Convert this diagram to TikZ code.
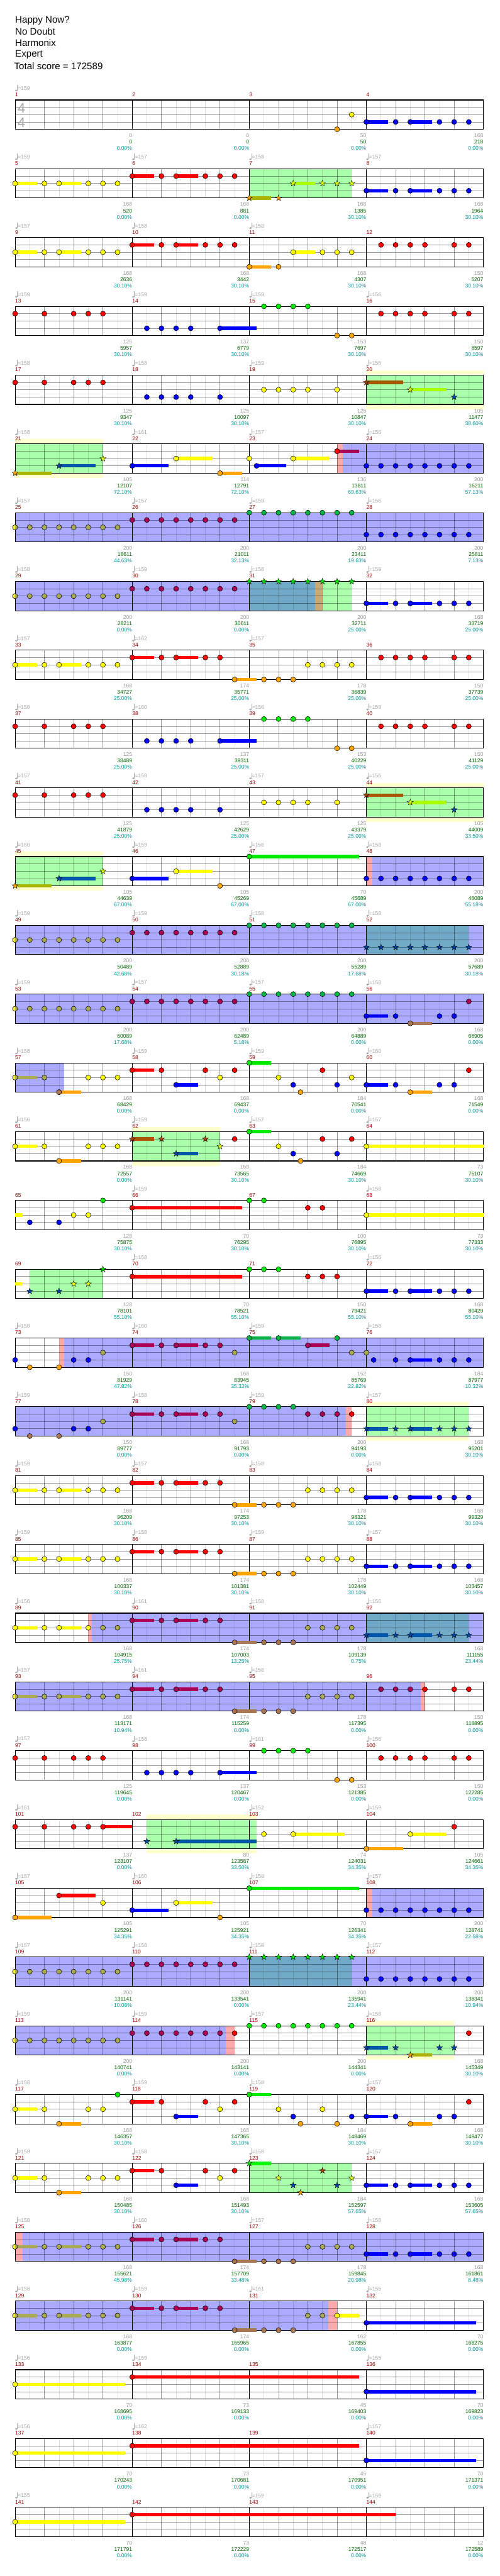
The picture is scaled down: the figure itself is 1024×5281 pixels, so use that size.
\documentclass[tikz,border=0pt]{standalone}
\usepackage{fontspec}
\setmainfont{Liberation Sans}
\definecolor{nG}{RGB}{0,235,0}\definecolor{nR}{RGB}{255,0,0}\definecolor{nY}{RGB}{255,255,0}
\definecolor{nB}{RGB}{0,0,255}\definecolor{nO}{RGB}{255,165,0}
\definecolor{oG}{RGB}{0,180,70}\definecolor{oR}{RGB}{170,0,85}\definecolor{oY}{RGB}{170,170,85}
\definecolor{oB}{RGB}{0,0,255}\definecolor{oO}{RGB}{170,119,85}
\definecolor{sG}{RGB}{0,230,0}\definecolor{sR}{RGB}{170,68,0}\definecolor{sY}{RGB}{225,255,0}
\definecolor{sB}{RGB}{0,70,170}\definecolor{sO}{RGB}{255,165,0}
\definecolor{tG}{RGB}{0,255,0}\definecolor{tR}{RGB}{170,85,0}\definecolor{tY}{RGB}{170,255,0}
\definecolor{tB}{RGB}{0,85,170}\definecolor{tO}{RGB}{170,180,0}
\definecolor{odc}{RGB}{170,170,255}\definecolor{spc}{RGB}{170,255,170}\definecolor{glowc}{RGB}{255,255,208}
\definecolor{pkc}{RGB}{255,170,170}\definecolor{tlc}{RGB}{112,170,200}\definecolor{tanc}{RGB}{200,170,120}
\definecolor{ngray}{RGB}{153,153,153}\definecolor{ngreen}{RGB}{0,102,0}\definecolor{nteal}{RGB}{0,153,153}
\definecolor{mred}{RGB}{153,0,0}\definecolor{tgray}{RGB}{165,165,165}
\tikzset{
 l8/.style={draw=black,opacity=0.13,line width=0.8},
 lb/.style={draw=black,opacity=0.4,line width=0.8},
 txt/.style={inner sep=0pt,font=\fontsize{11}{13}\selectfont},
 mnum/.style={txt,text=mred,anchor=west},
 ttl/.style={inner sep=0pt,anchor=west,font=\fontsize{19.5}{22}\selectfont}
}
\def\offG{0}\def\offR{15}\def\offY{30}\def\offB{45}\def\offO{60}
\newcommand\setrow[1]{\def\rowid{#1}\pgfmathsetmacro\RY{205+141*(#1-1)}}
\newcommand\reg[3]{\fill[#1] ({31+30*(#2)},\RY) rectangle ({31+30*(#3)},{\RY+60});}
\newcommand\glow[2]{\fill[glowc] ({31+30*(#1)},{\RY-10}) rectangle ({31+30*(#2)},{\RY+70});\reg{spc}{#1}{#2}}
\newcommand\grid[2]{%
 \foreach \i in {1,3,...,31}{\draw[l8] ({31+30*\i},\RY) -- ++(0,60);}
 \foreach \i in {2,4,...,30}{\draw[lb] ({31+30*\i},\RY) -- ++(0,60);}
 \foreach \l in {15,30,45}{\draw[lb] (31,{\RY+\l}) -- (991,{\RY+\l});}
 \foreach \i in {1,2,3}{\draw[black,line width=1] ({31+240*\i},\RY) -- ++(0,60);}
 \draw[black,line width=1.4] (31,\RY) rectangle (991,{\RY+60});
 \foreach \i in {0,...,3}{\pgfmathtruncatemacro\mm{#1+\i}\node[mnum] (mn\mm) at ({31+240*\i},{\RY-11}) {\mm};}
 \foreach \t [count=\i from 0] in {#2}{\ifnum\t>0
   \pgfmathsetmacro\xo{31+240*\i}
   \fill[tgray] ({\xo+2.3},{\RY-19.5}) ellipse [x radius=2.5, y radius=1.9];
   \draw[tgray,line width=0.8] ({\xo+4.5},{\RY-19.5}) -- ({\xo+4.5},{\RY-31});
   \node[txt,text=tgray,anchor=west] (tp\rowid-\i) at ({\xo+5.5},{\RY-24}) {=\t};
 \fi}}
\newcommand\nums[1]{\foreach \g/\s/\p [count=\i] in {#1}{%
 \node[txt,text=ngray,anchor=east] (ga\rowid-\i) at ({31+240*\i},{\RY+73}) {\g};
 \node[txt,text=ngreen,anchor=east] (gb\rowid-\i) at ({31+240*\i},{\RY+86}) {\s};
 \node[txt,text=nteal,anchor=east] (gc\rowid-\i) at ({31+240*\i},{\RY+99}) {\p\%};}}
\newcommand\nt[3]{\filldraw[fill=#1#2,draw=black,line width=0.7] ({31+30*(#3)},{\RY+\csname off#2\endcsname}) circle [radius=5.2];}
\newcommand\barr[4]{\fill[#1] ({31+30*(#3)},{\RY+\csname off#2\endcsname-3.5}) rectangle ({31+30*(#4)},{\RY+\csname off#2\endcsname+3.5});}
\newcommand\sus[4]{\barr{#1#2}{#2}{#3}{#4}\nt{#1}{#2}{#3}}
\newcommand\sn[2]{\filldraw[fill=s#1,draw=black,line width=0.5,shift={({31+30*(#2)},{\RY+\csname off#1\endcsname})}] (0,-6.5)--(1.53,-2.1)--(6.18,-2.01)--(2.47,0.8)--(3.82,5.26)--(0,2.6)--(-3.82,5.26)--(-2.47,0.8)--(-6.18,-2.01)--(-1.53,-2.1)--cycle;}
\newcommand\ssn[3]{\barr{t#1}{#1}{#2}{#3}\sn{#1}{#2}}
\newcommand\runs[4]{\foreach\q in{#3,...,#4}{\nt{#1}{#2}{\q}}}
\newcommand\pat[3]{\sus{#1}{#2}{#3}{#3+1.5}\nt{#1}{#2}{#3+2}\sus{#1}{#2}{#3+3}{#3+4.5}\nt{#1}{#2}{#3+5}\nt{#1}{#2}{#3+6}}
\newcommand\half[1]{\begin{scope}\clip ({31+30*(#1)-7},{\RY+23}) rectangle ({31+30*(#1)},{\RY+37});\filldraw[fill=nY,line width=0.7] ({31+30*(#1)},{\RY+30}) circle [radius=5.2];\end{scope}}
\newcommand\headR{\nt{n}{R}{0}\nt{n}{R}{2}\nt{n}{R}{4}\nt{n}{R}{5}\nt{n}{R}{6}}
\newcommand\tailR{\nt{n}{R}{25}\nt{n}{R}{26}\nt{n}{R}{27}\nt{n}{R}{28}\nt{n}{R}{30}\nt{n}{R}{31}}
\newcommand\secA[1]{\pat{#1}{Y}{0}\nt{#1}{Y}{7}\pat{#1}{R}{8}\sus{#1}{O}{15}{16.5}\runs{#1}{O}{17}{19}\runs{#1}{Y}{20}{23}}
\newcommand\rowC{\headR\runs{n}{B}{9}{12}\sus{n}{B}{14}{16.5}\runs{n}{G}{17}{20}\nt{n}{O}{22}\nt{n}{O}{23}\tailR}
\newcommand\rowD{\headR\runs{n}{B}{9}{12}\nt{n}{B}{14}\runs{n}{Y}{17}{20}\nt{n}{Y}{22}\ssn{R}{24}{26.5}\ssn{Y}{27}{29.5}\sn{B}{30}}
\newcommand\bpat{\pat{n}{B}{24}\nt{n}{B}{31}}
\begin{document}
\begin{tikzpicture}[x=1pt,y=-1pt]
\useasboundingbox (0,0) rectangle (1024,5281);
\fill[white] (0,0) rectangle (1024,5281);
\node[ttl] (t1) at (31,42) {Happy Now?};
\node[ttl] (t2) at (31,65) {No Doubt};
\node[ttl] (t3) at (31,88) {Harmonix};
\node[ttl] (t4) at (31,112) {Expert};
\node[ttl] (t5) at (29,135) {Total score = 172589};
% row 1
\setrow{1}\grid{1}{159,0,0,0}
\node[inner sep=0pt,text=tgray,font=\fontsize{28}{28}\selectfont] (ts1) at (44,222) {4};
\node[inner sep=0pt,text=tgray,font=\fontsize{28}{28}\selectfont] (ts2) at (44,252) {4};
\nt{n}{O}{22}\nt{n}{Y}{23}\bpat
\nums{0/0/0.00,0/0/0.00,50/50/0.00,168/218/0.00}
% row 2
\setrow{2}\reg{spc}{16}{23}\grid{5}{159,157,158,157}
\pat{n}{Y}{0}\nt{n}{Y}{7}\pat{n}{R}{8}\nt{n}{R}{15}
\ssn{O}{16}{17.5}\sn{O}{18}\ssn{Y}{19}{20.5}\sn{Y}{21}\sn{Y}{22}\sn{Y}{23}\bpat
\nums{168/520/0.00,168/881/0.00,168/1385/30.10,168/1964/30.10}
% row 3
\setrow{3}\grid{9}{157,158,158,0}
\pat{n}{Y}{0}\nt{n}{Y}{7}\pat{n}{R}{8}\nt{n}{R}{15}
\sus{n}{O}{16}{17.5}\nt{n}{O}{18}\sus{n}{Y}{19}{20.5}\runs{n}{Y}{21}{23}\tailR
\nums{168/2636/30.10,168/3442/30.10,168/4307/30.10,150/5207/30.10}
% row 4
\setrow{4}\grid{13}{159,159,159,156}\rowC
\nums{125/5957/30.10,137/6779/30.10,153/7697/30.10,150/8597/30.10}
% row 5
\setrow{5}\glow{24}{32}\grid{17}{158,158,159,156}\rowD
\nums{125/9347/30.10,125/10097/30.10,125/10847/30.10,105/11477/38.60}
% row 6
\setrow{6}\glow{0}{6}\reg{pkc}{22}{22.4}\reg{odc}{22.4}{32}\grid{21}{158,161,157,156}
\ssn{O}{0}{2.5}\ssn{B}{3}{5.5}\sn{Y}{6}
\sus{n}{B}{8}{10.5}\sus{n}{Y}{11}{13.5}\sus{n}{O}{14}{15.5}\nt{n}{Y}{16}\sus{n}{B}{16.5}{18.5}\sus{n}{Y}{19}{21.5}
\sus{o}{R}{22}{23.5}\nt{n}{R}{22}\runs{o}{B}{24}{31}
\nums{105/12107/72.10,114/12791/72.10,136/13811/69.63,200/16211/57.13}
% row 7
\setrow{7}\reg{odc}{0}{32}\grid{25}{157,157,159,156}
\runs{o}{Y}{0}{7}\half{0}\runs{o}{R}{8}{15}\runs{o}{G}{16}{23}\runs{o}{B}{24}{31}
\nums{200/18611/44.63,200/21011/32.13,200/23411/19.63,200/25811/7.13}
% row 8
\setrow{8}\reg{odc}{0}{16}\reg{tlc}{16}{20.5}\reg{tanc}{20.5}{21}\reg{spc}{21}{23}\grid{29}{158,159,158,159}
\runs{o}{Y}{0}{7}\half{0}\runs{o}{R}{8}{15}\foreach\q in{16,...,23}{\sn{G}{\q}}\bpat
\nums{200/28211/0.00,200/30611/0.00,200/32711/25.00,168/33719/25.00}
% row 9
\setrow{9}\grid{33}{157,162,157,0}\secA{n}\tailR
\nums{168/34727/25.00,174/35771/25.00,178/36839/25.00,150/37739/25.00}
% row 10
\setrow{10}\grid{37}{158,160,156,159}\rowC
\nums{125/38489/25.00,137/39311/25.00,153/40229/25.00,150/41129/25.00}
% row 11
\setrow{11}\glow{24}{32}\grid{41}{157,158,157,156}\rowD
\nums{125/41879/25.00,125/42629/25.00,125/43379/25.00,105/44009/33.50}
% row 12
\setrow{12}\glow{0}{6}\reg{pkc}{24}{24.4}\reg{odc}{24.4}{32}\grid{45}{160,159,156,158}
\ssn{O}{0}{2.5}\ssn{B}{3}{5.5}\sn{Y}{6}\sus{n}{B}{8}{10.5}\sus{n}{Y}{11}{13.5}\nt{n}{O}{14}\sus{n}{G}{16}{23.5}\runs{o}{B}{24}{31}
\nums{105/44639/67.00,105/45269/67.00,70/45689/67.00,200/48089/55.18}
% row 13
\setrow{13}\reg{odc}{0}{24}\reg{tlc}{24}{31}\reg{odc}{31}{32}\grid{49}{159,159,158,158}
\runs{o}{Y}{0}{7}\half{0}\runs{o}{R}{8}{15}\runs{o}{G}{16}{23}\foreach\q in{24,...,31}{\sn{B}{\q}}
\nums{200/50489/42.68,200/52889/30.18,200/55289/17.68,200/57689/30.18}
% row 14
\setrow{14}\reg{odc}{0}{32}\grid{53}{159,157,157,158}
\runs{o}{Y}{0}{7}\half{0}\runs{o}{R}{8}{15}\runs{o}{G}{16}{23}
\sus{o}{B}{24}{25.5}\nt{o}{B}{26}\sus{o}{O}{27}{28.5}\nt{o}{B}{29}\nt{o}{B}{30}\nt{o}{R}{31}
\nums{200/60089/17.68,200/62489/5.18,200/64889/0.00,168/66905/0.00}
% row 15
\setrow{15}\reg{odc}{0}{3.33}\grid{57}{158,159,159,160}
\sus{o}{Y}{0}{1.5}\half{0}\nt{o}{Y}{2}\sus{n}{O}{3}{4.5}\nt{o}{O}{3}\runs{n}{Y}{5}{7}
\sus{n}{R}{8}{9.5}\nt{n}{R}{10}\sus{n}{B}{11}{12.5}\nt{n}{R}{13}\nt{n}{Y}{14}\nt{n}{R}{15}
\sus{n}{G}{16}{17.5}\nt{n}{Y}{18}\nt{n}{B}{19}\nt{n}{O}{19.5}\nt{n}{R}{21}\nt{n}{B}{22}\nt{n}{Y}{23}
\sus{n}{B}{24}{25.5}\nt{n}{B}{26}\sus{n}{O}{27}{28.5}\nt{n}{B}{29}\nt{n}{B}{30}\nt{n}{R}{31}
\nums{168/68429/0.00,168/69437/0.00,184/70541/0.00,168/71549/0.00}
% row 16
\setrow{16}\glow{8}{14}\grid{61}{156,159,157,157}
\sus{n}{Y}{0}{1.5}\nt{n}{Y}{2}\sus{n}{O}{3}{4.5}\runs{n}{Y}{5}{7}
\ssn{R}{8}{9.5}\sn{R}{10}\ssn{B}{11}{12.5}\sn{R}{13}\sn{Y}{14}\nt{n}{R}{15}
\sus{n}{G}{16}{17.5}\nt{n}{Y}{18}\nt{n}{B}{19}\nt{n}{O}{19.5}\nt{n}{R}{21}\nt{n}{B}{22}\nt{n}{R}{23}\sus{n}{Y}{24}{32}
\nums{168/72557/0.00,168/73565/30.10,184/74669/30.10,73/75107/30.10}
% row 17
\setrow{17}\grid{65}{0,159,0,158}
\barr{nY}{Y}{0}{0.5}\nt{n}{B}{1}\nt{n}{B}{3}\nt{n}{Y}{4}\nt{n}{Y}{5}\nt{n}{G}{6}\sus{n}{R}{8}{15.5}
\nt{n}{G}{16}\nt{n}{G}{17}\nt{n}{R}{20}\nt{n}{R}{21}\sus{n}{Y}{24}{32}
\nums{128/75875/30.10,70/76295/30.10,100/76895/30.10,73/77333/30.10}
% row 18
\setrow{18}\reg{spc}{1}{6}\grid{69}{0,158,0,156}
\barr{nY}{Y}{0}{0.5}\sn{B}{1}\sn{B}{3}\sn{Y}{4}\sn{Y}{5}\sn{G}{6}\sus{n}{R}{8}{15.5}\runs{n}{G}{16}{18}\runs{n}{R}{20}{22}\bpat
\nums{128/78101/55.10,70/78521/55.10,150/79421/55.10,168/80429/55.10}
% row 19
\setrow{19}\reg{pkc}{3}{3.33}\reg{odc}{3.33}{32}\grid{73}{158,160,159,158}
\nt{n}{B}{0}\nt{n}{O}{1}\nt{n}{O}{3}\nt{o}{B}{4}\nt{o}{B}{5}\nt{o}{Y}{6}\pat{o}{R}{8}\nt{o}{Y}{15}
\sus{o}{G}{16}{17.5}\sus{o}{G}{18}{19.5}\sus{o}{R}{20}{21.5}\nt{o}{G}{22}\nt{o}{Y}{23}\nt{o}{Y}{24}
\nt{o}{B}{24.5}\nt{o}{B}{26}\sus{o}{B}{27}{28.5}\nt{o}{B}{29}\nt{o}{B}{30}\nt{o}{B}{31}
\nums{150/81929/47.82,168/83945/35.32,152/85769/22.82,184/87977/10.32}
% row 20
\setrow{20}\reg{odc}{0}{22.6}\reg{pkc}{22.6}{23}\glow{24}{31}\grid{77}{159,158,159,157}
\nt{o}{B}{0}\nt{o}{O}{1}\nt{o}{O}{3}\nt{o}{B}{4}\nt{o}{B}{5}\nt{o}{Y}{6}\pat{o}{R}{8}\nt{o}{Y}{15}\runs{o}{G}{16}{19}\runs{o}{R}{20}{22}\nt{n}{R}{23}
\ssn{B}{24}{25.5}\sn{B}{26}\ssn{B}{27}{28.5}\sn{B}{29}\sn{B}{30}\sn{B}{31}
\nums{150/89777/0.00,168/91793/0.00,200/94193/0.00,168/95201/30.10}
% row 21
\setrow{21}\grid{81}{159,157,158,158}\secA{n}\bpat
\nums{168/96209/30.10,174/97253/30.10,178/98321/30.10,168/99329/30.10}
% row 22
\setrow{22}\grid{85}{159,158,159,157}\secA{n}\bpat
\nums{168/100337/30.10,174/101381/30.10,178/102449/30.10,168/103457/30.10}
% row 23
\setrow{23}\reg{pkc}{5}{5.25}\reg{odc}{5.25}{24}\reg{tlc}{24}{31}\reg{odc}{31}{32}\grid{89}{156,161,158,156}
\sus{n}{Y}{0}{1.5}\nt{n}{Y}{2}\sus{n}{Y}{3}{4.5}\nt{n}{Y}{5}\nt{o}{Y}{6}\nt{o}{Y}{7}
\pat{o}{R}{8}\sus{o}{O}{15}{16.5}\runs{o}{O}{17}{19}\runs{o}{Y}{20}{23}
\ssn{B}{24}{25.5}\sn{B}{26}\ssn{B}{27}{28.5}\sn{B}{29}\sn{B}{30}\sn{B}{31}
\nums{168/104915/25.75,174/107003/13.25,178/109139/0.75,168/111155/23.44}
% row 24
\setrow{24}\reg{odc}{0}{27.7}\reg{pkc}{27.7}{28}\grid{93}{157,161,156,0}
\secA{o}\half{0}\runs{o}{R}{25}{27}\nt{n}{R}{28}\nt{n}{R}{30}\nt{n}{R}{31}
\nums{168/113171/10.94,174/115259/0.00,178/117395/0.00,150/118895/0.00}
% row 25
\setrow{25}\grid{97}{157,158,161,156}\rowC
\nums{125/119645/0.00,137/120467/0.00,153/121385/0.00,150/122285/0.00}
% row 26
\setrow{26}\glow{9}{16.5}\grid{101}{161,0,152,159}
\nt{n}{R}{0}\nt{n}{R}{2}\nt{n}{R}{4}\nt{n}{R}{5}\sus{n}{R}{6}{8}\sn{B}{9}\ssn{B}{11}{16.5}
\nt{n}{Y}{17}\sus{n}{Y}{19}{22.5}\sus{n}{O}{24}{26.5}\sus{n}{Y}{27}{29.5}\nt{n}{R}{30}
\nums{137/123107/0.00,80/123587/33.50,74/124031/34.35,105/124661/34.35}
% row 27
\setrow{27}\reg{pkc}{24}{24.4}\reg{odc}{24.4}{32}\grid{105}{157,160,158,157}
\sus{n}{O}{0}{2.5}\sus{n}{R}{3}{5.5}\nt{n}{Y}{6}\sus{n}{B}{8}{10.5}\sus{n}{Y}{11}{13.5}\nt{n}{O}{14}\sus{n}{G}{16}{23.5}\runs{o}{B}{24}{31}
\nums{105/125291/34.35,105/125921/34.35,70/126341/34.35,200/128741/22.58}
% row 28
\setrow{28}\reg{odc}{0}{16}\reg{tlc}{16}{23}\reg{odc}{23}{32}\grid{109}{157,158,158,157}
\runs{o}{Y}{0}{7}\half{0}\runs{o}{R}{8}{15}\foreach\q in{16,...,23}{\sn{G}{\q}}\runs{o}{B}{24}{31}
\nums{200/131141/10.08,200/133541/0.00,200/135941/23.44,200/138341/10.94}
% row 29
\setrow{29}\reg{odc}{0}{14.4}\reg{pkc}{14.4}{15}\glow{24}{30}\grid{113}{159,159,157,158}
\runs{o}{Y}{0}{7}\half{0}\runs{o}{R}{8}{14}\nt{n}{R}{15}\runs{n}{G}{16}{23}
\ssn{B}{24}{25.5}\sn{B}{26}\ssn{O}{27}{28.5}\sn{B}{29}\sn{B}{30}\nt{n}{R}{31}
\nums{200/140741/0.00,200/143141/0.00,200/144341/0.00,168/145349/30.10}
% row 30
\setrow{30}\grid{117}{158,159,158,157}
\sus{n}{Y}{0}{1.5}\nt{n}{Y}{2}\sus{n}{O}{3}{4.5}\nt{n}{Y}{5}\nt{n}{Y}{6}\nt{n}{G}{7}
\sus{n}{R}{8}{9.5}\nt{n}{R}{10}\sus{n}{B}{11}{12.5}\nt{n}{R}{13}\nt{n}{Y}{14}\nt{n}{R}{15}
\sus{n}{G}{16}{17.5}\nt{n}{Y}{18}\nt{n}{B}{19}\nt{n}{O}{19.5}\nt{n}{Y}{21}\nt{n}{O}{22}\nt{n}{B}{23}
\sus{n}{B}{24}{25.5}\nt{n}{B}{26}\sus{n}{O}{27}{28.5}\nt{n}{B}{29}\nt{n}{B}{30}\nt{n}{R}{31}
\nums{168/146357/30.10,168/147365/30.10,184/148469/30.10,168/149477/30.10}
% row 31
\setrow{31}\reg{spc}{16}{23}\grid{121}{159,158,158,157}
\sus{n}{Y}{0}{1.5}\nt{n}{Y}{2}\sus{n}{O}{3}{4.5}\runs{n}{Y}{5}{7}
\sus{n}{R}{8}{9.5}\nt{n}{R}{10}\sus{n}{B}{11}{12.5}\nt{n}{R}{13}\nt{n}{Y}{14}\nt{n}{R}{15}
\ssn{G}{16}{17.5}\sn{Y}{18}\sn{B}{19}\sn{O}{19.5}\sn{R}{21}\sn{B}{22}\sn{Y}{23}\bpat
\nums{168/150485/30.10,168/151493/30.10,184/152597/57.65,168/153605/57.65}
% row 32
\setrow{32}\reg{pkc}{0}{0.5}\reg{odc}{0.5}{32}\grid{125}{158,160,157,158}
\secA{o}\half{0}\pat{o}{B}{24}\nt{o}{B}{31}
\nums{168/155621/45.98,174/157709/33.48,178/159845/20.98,168/161861/8.48}
% row 33
\setrow{33}\reg{odc}{0}{21.4}\reg{pkc}{21.4}{22}\grid{129}{158,159,161,155}
\pat{o}{Y}{0}\half{0}\nt{o}{Y}{7}\pat{o}{R}{8}\sus{o}{O}{15}{16.5}\runs{o}{O}{17}{19}\nt{o}{Y}{20}\nt{o}{Y}{21}
\sus{n}{Y}{22}{23.5}\sus{n}{B}{24}{31.5}
\nums{168/163877/0.00,174/165965/0.00,162/167855/0.00,70/168275/0.00}
% row 34
\setrow{34}\grid{133}{156,159,0,155}
\sus{n}{Y}{0}{7.5}\sus{n}{R}{8}{23.5}\sus{n}{B}{24}{31.5}
\nums{70/168695/0.00,73/169133/0.00,45/169403/0.00,70/169823/0.00}
% row 35
\setrow{35}\grid{137}{156,162,0,157}
\sus{n}{Y}{0}{7.5}\sus{n}{R}{8}{23.5}\sus{n}{B}{24}{31.5}
\nums{70/170243/0.00,73/170681/0.00,45/170951/0.00,70/171371/0.00}
% row 36
\setrow{36}\grid{141}{155,0,159,159}
\sus{n}{Y}{0}{7.5}\sus{n}{R}{8}{26}
\nums{70/171791/0.00,73/172229/0.00,48/172517/0.00,12/172589/0.00}
\end{tikzpicture}
\end{document}
